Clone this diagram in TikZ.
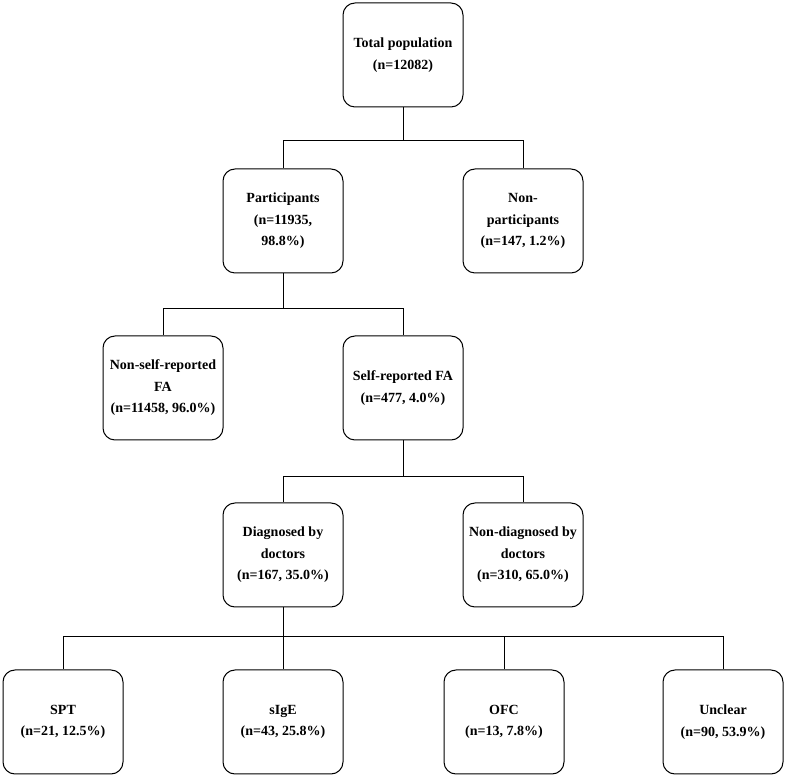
\documentclass[tikz,border=0pt]{standalone}
\usepackage{fontspec}
\setmainfont{Liberation Serif}

\begin{document}
\begin{tikzpicture}[x=1pt, y=1pt, line width=1pt,
    box/.style={draw, rounded corners=12pt, minimum width=120pt, minimum height=104pt,
      align=center, inner sep=2pt, font=\fontsize{14}{21.5}\selectfont\bfseries}]
  \useasboundingbox (0,0) rectangle (788,777);
  % levels, top to bottom
  \node[box] (total) at (403,722) {Total population\\(n=12082)};
  \node[box] (part) at (283,556) {Participants\\(n=11935,\\98.8\%)};
  \node[box] (nonpart) at (523,556) {Non-\\participants\\(n=147, 1.2\%)};
  \node[box] (nonself) at (163,389) {Non-self-reported\\FA\\(n=11458, 96.0\%)};
  \node[box] (self) at (403,389) {Self-reported FA\\(n=477, 4.0\%)};
  \node[box] (diag) at (283,222) {Diagnosed by\\doctors\\(n=167, 35.0\%)};
  \node[box] (nondiag) at (523,222) {Non-diagnosed by\\doctors\\(n=310, 65.0\%)};
  \node[box] (spt) at (63,55) {SPT\\(n=21, 12.5\%)};
  \node[box] (sige) at (283,55) {sIgE\\(n=43, 25.8\%)};
  \node[box] (ofc) at (504,55) {OFC\\(n=13, 7.8\%)};
  \node[box] (unclear) at (723,55) {Unclear\\(n=90, 53.9\%)};
  % connectors
  \draw (total.south) -- ++(0,-33) -| (part.north);
  \draw (total.south) -- ++(0,-33) -| (nonpart.north);
  \draw (part.south) -- ++(0,-35) -| (nonself.north);
  \draw (part.south) -- ++(0,-35) -| (self.north);
  \draw (self.south) -- ++(0,-36) -| (diag.north);
  \draw (self.south) -- ++(0,-36) -| (nondiag.north);
  \draw (diag.south) -- ++(0,-29) -| (spt.north);
  \draw (diag.south) -- (sige.north);
  \draw (diag.south) -- ++(0,-29) -| (ofc.north);
  \draw (diag.south) -- ++(0,-29) -| (unclear.north);
\end{tikzpicture}
\end{document}
